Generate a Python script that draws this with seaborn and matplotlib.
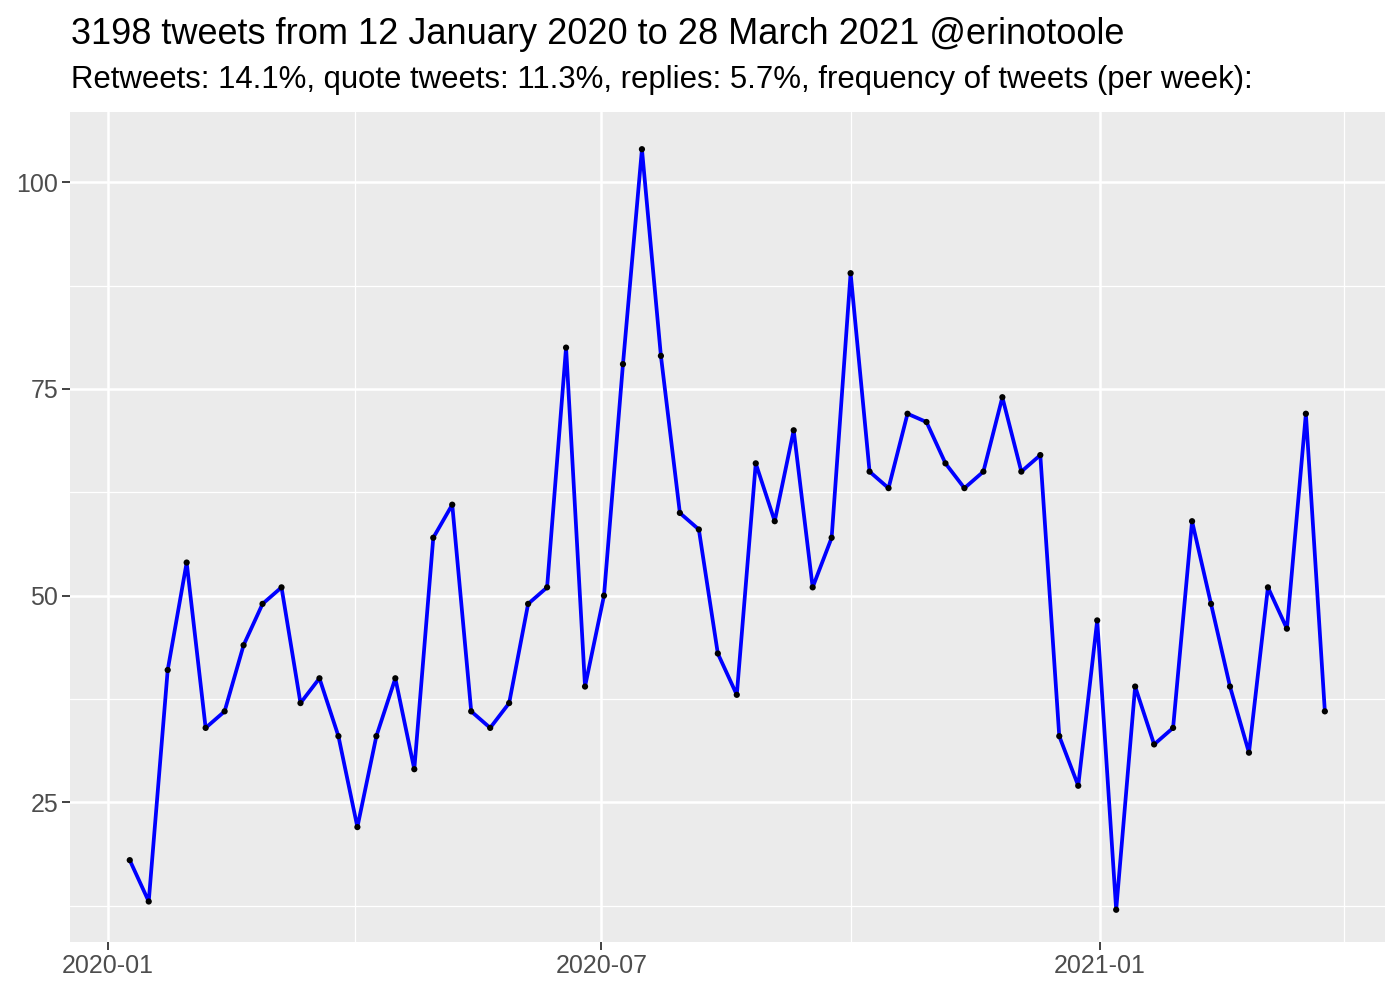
import pandas as pd
import numpy as np
import matplotlib
matplotlib.use("Agg")
import matplotlib.pyplot as plt
import matplotlib.dates as mdates
import seaborn as sns

# weekly tweet counts, week dates
week_start = "2020-01-09"
n_weeks = 64
tweets = [18, 13, 41, 54, 34, 36, 44, 49, 51, 37,
          40, 33, 22, 33, 40, 29, 57, 61, 36, 34,
          37, 49, 51, 80, 39, 50, 78, 104, 79, 60,
          58, 43, 38, 66, 59, 70, 51, 57, 89, 65,
          63, 72, 71, 66, 63, 65, 74, 65, 67, 33,
          27, 47, 12, 39, 32, 34, 59, 49, 39, 31,
          51, 46, 72, 36]
y_ticks = [25, 50, 75, 100]
y_minor = [12.5, 37.5, 62.5, 87.5]
x_ticks = ["2020-01-01", "2020-07-01", "2021-01-01"]
x_minor = ["2020-04-01", "2020-10-01", "2021-04-01"]

title = "3198 tweets from 12 January 2020 to 28 March 2021 @erinotoole"
subtitle = "Retweets: 14.1%, quote tweets: 11.3%, replies: 5.7%, frequency of tweets (per week):"

df = pd.DataFrame({"week": pd.date_range(week_start, periods=n_weeks, freq="7D"),
                   "n": tweets})

sns.set_theme(style="darkgrid")
plt.rcParams['font.family'] = ['Liberation Sans', 'DejaVu Sans']

fig = plt.figure(figsize=(14, 10), dpi=100)
ax = fig.add_axes([0.05, 0.058, 0.939, 0.830])
ax.set_facecolor("#EBEBEB")

sns.lineplot(data=df, x="week", y="n", color="#0000FF", linewidth=2.7, ax=ax, zorder=3)
sns.scatterplot(data=df, x="week", y="n", color="black", s=20, edgecolor="none", ax=ax, zorder=4)

span = df["week"].max() - df["week"].min()
ax.set_xlim(df["week"].min() - span * 0.05, df["week"].max() + span * 0.05)
ax.set_ylim(8.1, 108.5)

ax.set_xticks(pd.to_datetime(x_ticks))
ax.set_xticks(pd.to_datetime(x_minor), minor=True)
ax.xaxis.set_major_formatter(mdates.DateFormatter("%Y-%m"))
ax.set_yticks(y_ticks)
ax.set_yticks(y_minor, minor=True)

ax.grid(which="major", color="white", linewidth=1.8)
ax.grid(which="minor", color="white", linewidth=0.9)
ax.tick_params(which="major", length=5.5, width=1.3, color="#333333",
               labelsize=18, labelcolor="#4D4D4D", pad=3, bottom=True, left=True)
ax.tick_params(which="minor", length=0)
for s in ax.spines.values():
    s.set_visible(False)
ax.set_xlabel("")
ax.set_ylabel("")

fig.text(0.051, 0.956, title, fontsize=26, color="black", ha="left", va="baseline")
fig.text(0.051, 0.912, subtitle, fontsize=22.4, color="black", ha="left", va="baseline")

fig.savefig("out.png", dpi=100)
